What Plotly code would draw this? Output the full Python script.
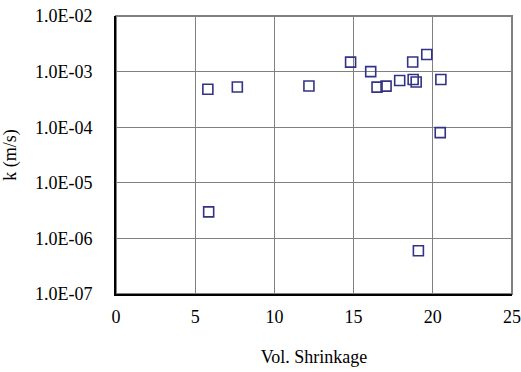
import plotly.graph_objects as go

shrinkage = [5.80, 7.66, 12.18, 14.81, 16.08, 16.48, 17.05, 17.91, 18.73, 18.76,
             18.95, 19.62, 20.51, 20.47, 5.85, 19.09]
k_values = [4.8e-4, 5.3e-4, 5.5e-4, 1.48e-3, 1.0e-3, 5.25e-4, 5.47e-4, 6.9e-4, 1.49e-3, 7.2e-4,
            6.5e-4, 2.03e-3, 7.2e-4, 8.0e-5, 3.0e-6, 6.0e-7]
x_ticks = [0, 5, 10, 15, 20, 25]
y_ticks = [1e-7, 1e-6, 1e-5, 1e-4, 1e-3, 1e-2]
y_tick_labels = ["1.0E-07", "1.0E-06", "1.0E-05", "1.0E-04", "1.0E-03", "1.0E-02"]

font = dict(family="Liberation Serif", size=18, color="#000000")

fig = go.Figure()
fig.add_trace(go.Scatter(
    x=shrinkage, y=k_values, mode="markers",
    marker=dict(symbol="square-open", size=10, color="#333385", line=dict(width=1.6, color="#333385")),
    showlegend=False,
))

fig.add_shape(type="rect", xref="paper", yref="paper", x0=0, y0=0, x1=1, y1=1,
              line=dict(color="#808080", width=2), layer="below")

fig.update_xaxes(
    range=[0, 25], tickvals=x_ticks, showgrid=True, gridcolor="#808080", gridwidth=1,
    showline=True, linecolor="#000000", linewidth=2, zeroline=False,
    ticks="", ticklabelstandoff=5, tickfont=font, automargin=False,
    title=dict(text="Vol. Shrinkage", font=font, standoff=25),
)
fig.update_yaxes(
    type="log", range=[-7, -2], tickvals=y_ticks, ticktext=y_tick_labels,
    showgrid=True, gridcolor="#808080", gridwidth=1,
    showline=True, linecolor="#000000", linewidth=2, zeroline=False,
    ticks="", ticklabelstandoff=18, tickfont=font, automargin=False,
    title=dict(text="k (m/s)", font=font, standoff=16),
)
fig.update_layout(
    width=521, height=372,
    margin=dict(l=116, r=9, t=16, b=78),
    paper_bgcolor="white", plot_bgcolor="white",
    font=font,
)
fig.write_html("out.html")
